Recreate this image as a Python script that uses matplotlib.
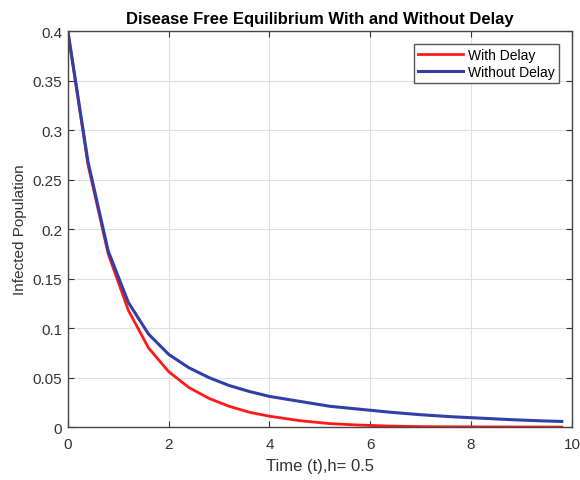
import matplotlib.pyplot as plt
import numpy as np

plt.rcParams['font.family'] = ['Liberation Sans', 'DejaVu Sans']

# data
t = [0, 0.4, 0.8, 1.2, 1.6, 2.0, 2.4, 2.8, 3.2, 3.6, 4.0, 4.6, 5.2, 5.8, 6.4, 7.0, 7.6, 8.2, 8.8, 9.4, 9.8]
with_delay = [0.4, 0.265, 0.175, 0.118, 0.080, 0.056, 0.040, 0.029, 0.021, 0.015, 0.011, 0.0065, 0.0035,
              0.002, 0.001, 0.0005, 0.0003, 0.0002, 0.0001, 0.0001, 0.0]
without_delay = [0.4, 0.268, 0.178, 0.126, 0.094, 0.0735, 0.060, 0.050, 0.042, 0.036, 0.031, 0.026, 0.021,
                 0.018, 0.015, 0.0125, 0.0105, 0.009, 0.0075, 0.0063, 0.0057]
xticks = [0, 2, 4, 6, 8, 10]
yticks = [0, 0.05, 0.1, 0.15, 0.2, 0.25, 0.3, 0.35, 0.4]
ylabels = ['0', '0.05', '0.1', '0.15', '0.2', '0.25', '0.3', '0.35', '0.4']

fig = plt.figure(figsize=(5.8, 4.81), dpi=100)
ax = fig.add_axes([0.117, 0.110, 0.869, 0.823])

ax.plot(t, with_delay, color='#ff1a1a', lw=2, label='With Delay')
ax.plot(t, without_delay, color='#3040a8', lw=2.2, label='Without Delay')

ax.set_xlim(0, 10)
ax.set_ylim(0, 0.4)
ax.set_xticks(xticks)
ax.set_yticks(yticks)
ax.set_yticklabels(ylabels)
ax.grid(True, color='#e0e0e0', lw=0.8)
ax.set_axisbelow(True)
ax.tick_params(direction='in', top=True, right=True, labelsize=11, colors='#333333', length=4, pad=4)
ax.tick_params(axis='x', pad=7)
for s in ax.spines.values():
    s.set_color('#444444')
    s.set_linewidth(1.0)

ax.set_xlabel('Time (t),h= 0.5', fontsize=12, color='#333333', labelpad=5)
ax.set_ylabel('Infected Population', fontsize=11, color='#333333')
ax.set_title('Disease Free Equilibrium With and Without Delay', fontsize=12, fontweight='bold', pad=6)

leg = ax.legend(loc='upper right', fontsize=10, fancybox=False, framealpha=1,
                edgecolor='#555555', handlelength=3.2, handletextpad=0.4,
                borderaxespad=0.9, borderpad=0.3, labelspacing=0.2)

fig.savefig('out.png', dpi=100)
